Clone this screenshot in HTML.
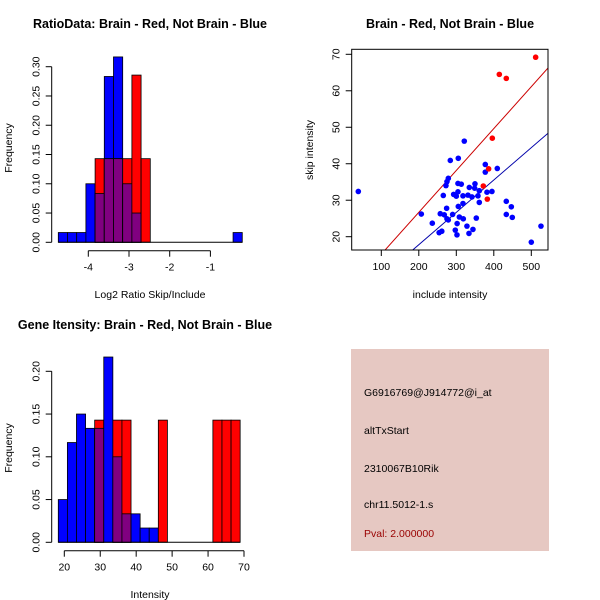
<!DOCTYPE html>
<html><head><meta charset="utf-8"><style>
body{margin:0;background:#fff}
svg{display:block;font-family:"Liberation Sans",sans-serif}
</style></head><body>
<svg id="c" width="600" height="600" viewBox="0 0 600 600">
<rect width="600" height="600" fill="#fff"/>
</svg>
<script>
// ---- data ----
const ratioBlue = [0.0167,0.0167,0.0167,0.1,0.0833,0.2833,0.3167,0.1,0.05,0,0,0,0,0,0,0,0,0,0,0.0167];
const ratioRed  = [0,0,0,0,0.1429,0.1429,0.1429,0.1429,0.2857,0.1429,0,0,0,0,0,0,0,0,0,0];
const ratioBinStart = -4.737, ratioBinWidth = 0.226;
const ratioXTicks = [-4,-3,-2,-1];
const ratioYTicks = ["0.00","0.05","0.10","0.15","0.20","0.25","0.30"];

const intBlue = [0.05,0.1167,0.15,0.1333,0.1333,0.2167,0.1,0.0333,0.0333,0.0167,0.0167,0,0,0,0,0,0,0,0,0];
const intRed  = [0,0,0,0,0.1429,0,0.1429,0.1429,0,0,0,0.1429,0,0,0,0,0,0.1429,0.1429,0.1429];
const intBinStart = 18.33, intBinWidth = 2.53;
const intXTicks = [20,30,40,50,60,70];
const intYTicks = ["0.00","0.05","0.10","0.15","0.20"];

const redX = [511.6,414.7,433.3,396,386.2,372,382.7];
const redY = [69.2,64.5,63.4,47.0,38.6,33.9,30.3];
const blueX = [38.7,321.3,284,305.3,377.3,409.3,377.3,278.7,275.1,272.4,304.4,313.3,349.8,334.7,348.9,361.3,395.1,304.4,381.8,265.3,292.9,300,317.8,331.1,341.8,357.8,361.3,317.8,305.3,433.3,446.7,274.2,206.7,257.3,268,290.2,275.1,278.7,308.1,318.7,353.3,433.3,449.3,236,302.2,328.4,261.3,254.2,297.3,344.4,333.8,301.8,525.8,500];
const blueY = [32.4,46.2,40.9,41.5,39.8,38.7,37.7,36.0,35.1,34.0,34.6,34.4,34.5,33.5,33.3,32.6,32.4,32.3,32.2,31.3,31.6,31.1,31.2,31.4,30.9,31.2,29.4,29.1,28.3,29.7,28.2,27.8,26.2,26.3,26.0,26.1,24.9,24.6,25.4,24.9,25.1,26.1,25.3,23.7,23.6,22.9,21.5,21.1,21.8,22.0,20.9,20.5,22.9,18.5];
const redFit = [3.72,0.1148];
const blueFit = [0.06,0.0887];
const scXTicks = [100,200,300,400,500];
const scYTicks = [20,30,40,50,60,70];

const NS="http://www.w3.org/2000/svg";
const svg=document.getElementById('c');
function mk(tag,attrs,parent){const e=document.createElementNS(NS,tag);for(const k in attrs)e.setAttribute(k,attrs[k]);(parent||svg).appendChild(e);return e;}
function txt(s,x,y,size,opts){const e=mk('text',Object.assign({x:x,y:y,'font-size':size,'text-anchor':'middle',fill:'#000'},opts||{}));e.textContent=s;return e;}

// ---- histogram ----
function hist(g,blue,red,b0,bw,xs,ys,xTicks,yTicks,yMax,axY,yLabelX){
  for(let i=0;i<blue.length;i++){
    const x0=xs(b0+i*bw),x1=xs(b0+(i+1)*bw);
    const b=blue[i],r=red[i],m=Math.min(b,r);
    if(b>0){const e=mk('rect',{x:x0,y:ys(b),width:x1-x0,height:ys(0)-ys(b),fill:'#0000ff',stroke:'#000','stroke-width':0.8},g);
      
      }
    if(r>0){const e=mk('rect',{x:x0,y:ys(r),width:x1-x0,height:ys(0)-ys(r),fill:'#ff0000',stroke:'#000','stroke-width':0.8},g);
      
      }
    if(m>0){const e=mk('rect',{x:x0,y:ys(m),width:x1-x0,height:ys(0)-ys(m),fill:'#800080',stroke:'#000','stroke-width':0.8},g);
      
      }
  }
  mk('line',{x1:xs(b0),x2:xs(b0+blue.length*bw),y1:ys(0),y2:ys(0),stroke:'#000'},g);
  // x axis
  mk('line',{x1:xs(xTicks[0]),x2:xs(xTicks[xTicks.length-1]),y1:axY,y2:axY,stroke:'#000'},g);
  xTicks.forEach(t=>{mk('line',{x1:xs(t),x2:xs(t),y1:axY,y2:axY+6,stroke:'#000'},g);
    const e=txt(String(t),xs(t),axY+20,10.5,{}); g.appendChild(e);
    
    });
  // y axis
  const ax=51.7;
  mk('line',{x1:ax,x2:ax,y1:ys(0),y2:ys(yMax),stroke:'#000'},g);
  yTicks.forEach(t=>{const v=parseFloat(t);mk('line',{x1:ax-6,x2:ax,y1:ys(v),y2:ys(v),stroke:'#000'},g);
    const e=txt(t,0,0,10.5,{transform:`translate(${ax-12},${ys(v)}) rotate(-90)`}); g.appendChild(e);
    
    });
}

// panel 1
const g1=mk('g',{});
hist(g1,ratioBlue,ratioRed,ratioBinStart,ratioBinWidth,v=>88.3+(v+4)*40.7,v=>242.3-v*585.3,ratioXTicks,ratioYTicks,0.30,250.7);
txt('RatioData: Brain - Red, Not Brain - Blue',150,28,12.5,{'font-weight':'bold',});
txt('Log2 Ratio Skip/Include',150,298,10.5,{});
txt('Frequency',0,0,10.5,{transform:'translate(12,148) rotate(-90)',});

// panel 3
const g3=mk('g',{});
hist(g3,intBlue,intRed,intBinStart,intBinWidth,v=>64.3+(v-20)*3.594,v=>542.3-v*855,intXTicks,intYTicks,0.20,550.7);
txt('Gene Itensity: Brain - Red, Not Brain - Blue',145,329,12.5,{'font-weight':'bold',});
txt('Intensity',150,598,10.5,{});
txt('Frequency',0,0,10.5,{transform:'translate(12,448) rotate(-90)',});

// panel 2 scatter
const g2=mk('g',{});
const sx=v=>381.3+(v-100)*0.375, sy=v=>54.3+(70-v)*3.648;
const L=351.7,R=548,T=49.3,B=250;
mk('clipPath',{id:'cp'},g2); mk('rect',{x:L,y:T,width:R-L,height:B-T},g2.lastChild);
[[redFit,'#cc0000','red-fit-line'],[blueFit,'#0000aa','blue-fit-line']].forEach(([f,c,n])=>{
  const e=mk('line',{x1:sx(0),y1:sy(f[0]),x2:sx(700),y2:sy(f[0]+f[1]*700),stroke:c,'stroke-width':1,'clip-path':'url(#cp)'},g2);
  
  
});
blueX.forEach((x,i)=>{const e=mk('circle',{cx:sx(x),cy:sy(blueY[i]),r:2.8,fill:'#0000ff'},g2);
  
  });
redX.forEach((x,i)=>{const e=mk('circle',{cx:sx(x),cy:sy(redY[i]),r:2.8,fill:'#ff0000'},g2);
  
  });
mk('rect',{x:L,y:T,width:R-L,height:B-T,fill:'none',stroke:'#000'},g2);
scXTicks.forEach(t=>{mk('line',{x1:sx(t),x2:sx(t),y1:B,y2:B+6,stroke:'#000'},g2);
  const e=txt(String(t),sx(t),B+20,10.5,{}); g2.appendChild(e);
  
  });
scYTicks.forEach(t=>{mk('line',{x1:L-6,x2:L,y1:sy(t),y2:sy(t),stroke:'#000'},g2);
  const e=txt(String(t),0,0,10.5,{transform:`translate(${L-12},${sy(t)}) rotate(-90)`}); g2.appendChild(e);
  
  });
txt('Brain - Red, Not Brain - Blue',450,28,12.5,{'font-weight':'bold',});
txt('include intensity',450,298,10.5,{});
txt('skip intensity',0,0,10.5,{transform:'translate(313,150) rotate(-90)',});

// info box
const g4=mk('g',{});
mk('rect',{x:351,y:349,width:198,height:202,fill:'#e6c8c2'},g4);
[['G6916769@J914772@i_at',396,'#000','probe-id'],['altTxStart',434,'#000','event-type'],['2310067B10Rik',472,'#000','gene-name'],['chr11.5012-1.s',508,'#000','location'],['Pval: 2.000000',537,'#990000','p-value']].forEach(([s,y,c,n])=>{
  const e=txt(s,364,y,10.5,{'text-anchor':'start',fill:c}); g4.appendChild(e);
  
  
});
</script>
</body></html>
